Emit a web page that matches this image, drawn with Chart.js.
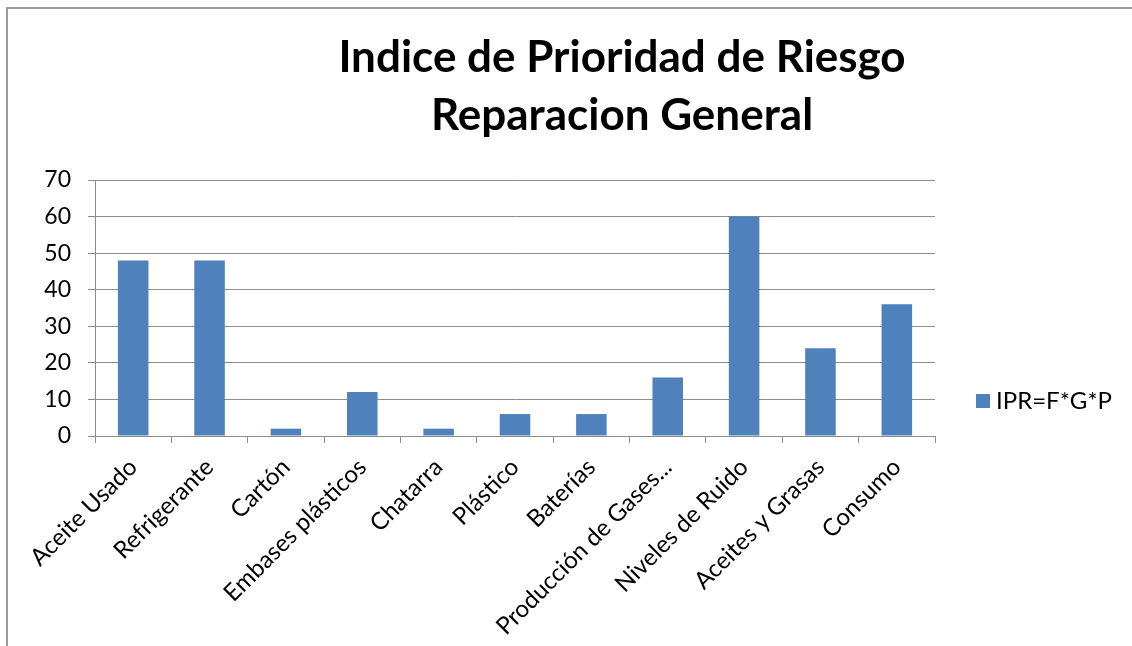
<!DOCTYPE html>
<html>
<head>
<meta charset="utf-8">
<script src="https://cdn.jsdelivr.net/npm/chart.js@4.4.0/dist/chart.umd.min.js"></script>
<style>
html,body{margin:0;padding:0;background:#fff;}
#wrap{position:relative;width:1132px;height:646px;}
canvas{display:block;}
</style>
</head>
<body>
<div id="wrap"><canvas id="c" width="1132" height="646"></canvas></div>
<script>
const categories = ["Aceite Usado","Refrigerante","Cartón","Embases plásticos","Chatarra","Plástico","Baterías","Producción de Gases...","Niveles de Ruido","Aceites y Grasas","Consumo"];
const seriesName = "IPR=F*G*P";
const ipr = [48,48,2,12,2,6,6,16,60,24,36];
const titleLines = ["Indice de Prioridad de Riesgo","Reparacion General"];
const yTicks = [0,10,20,30,40,50,60,70];

const FONT = "Lato, 'Open Sans', sans-serif";
const BAR = "#4F81BD";
const GRID = "#8c8c8c";

const decor = {
  id: 'decor',
  beforeDraw(chart){
    const ctx = chart.ctx;
    ctx.save();
    ctx.fillStyle = '#fff';
    ctx.fillRect(0,0,chart.width,chart.height);
    ctx.strokeStyle = '#9a9a9a';
    ctx.lineWidth = 2;
    ctx.beginPath();
    ctx.moveTo(chart.width, 8);
    ctx.lineTo(7, 8);
    ctx.lineTo(7, chart.height);
    ctx.stroke();
    ctx.restore();
  },
  afterDraw(chart){
    const ctx = chart.ctx;
    ctx.save();
    ctx.fillStyle = '#000';
    ctx.font = "bold 44px " + FONT;
    ctx.textAlign = 'center';
    ctx.textBaseline = 'alphabetic';
    const cx = 622;
    ctx.fillText(titleLines[0], cx, 72);
    ctx.fillText(titleLines[1], cx, 130);
    // legend
    const ds = chart.data.datasets[0];
    const ly = 401;
    ctx.fillStyle = ds.backgroundColor;
    ctx.fillRect(976, ly - 7, 14, 14);
    ctx.fillStyle = '#000';
    ctx.font = "24px " + FONT;
    ctx.textAlign = 'left';
    ctx.textBaseline = 'middle';
    ctx.fillText(ds.label, 996, ly);
    ctx.restore();
  }
};

new Chart(document.getElementById('c'), {
  type: 'bar',
  data: {
    labels: categories,
    datasets: [{
      label: seriesName,
      data: ipr,
      backgroundColor: BAR,
      borderWidth: 0,
      barPercentage: 0.4,
      categoryPercentage: 1.0
    }]
  },
  options: {
    responsive: false,
    animation: false,
    devicePixelRatio: 1,
    layout: { padding: { top: 180, left: 0, right: 197, bottom: 0 } },
    plugins: { legend: { display: false }, title: { display: false }, tooltip: { enabled: false } },
    scales: {
      y: {
        min: 0, max: 70,
        afterFit(s){ s.width = 95; },
        afterBuildTicks(s){ s.ticks = yTicks.map(v => ({value: v})); },
        ticks: { color: '#000', font: { family: FONT, size: 23 }, padding: 17 },
        grid: { color: GRID, lineWidth: 1, tickLength: 7, drawTicks: true },
        border: { color: GRID, width: 1 }
      },
      x: {
        afterFit(s){ s.height = 646 - 436; },
        ticks: { color: '#000', font: { family: FONT, size: 24 }, minRotation: 45, maxRotation: 45, autoSkip: false, padding: 10 },
        grid: { offset: true, drawOnChartArea: false, drawTicks: true, tickLength: 7, color: GRID },
        border: { color: GRID, width: 1 }
      }
    }
  },
  plugins: [decor]
});
</script>
</body>
</html>
